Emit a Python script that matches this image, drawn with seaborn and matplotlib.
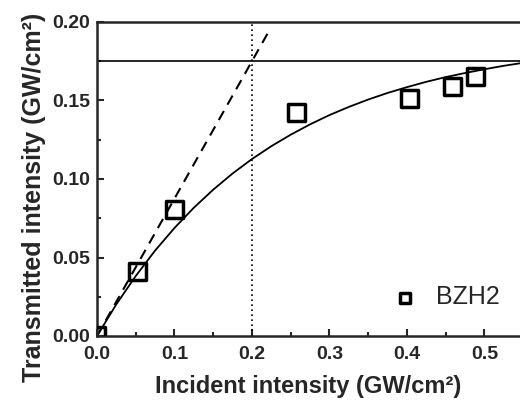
import numpy as np
import pandas as pd
import seaborn as sns
import matplotlib.pyplot as plt
from matplotlib.ticker import MultipleLocator, FormatStrFormatter

sns.set_theme(style="ticks")
plt.rcParams['font.family'] = ['Liberation Sans', 'DejaVu Sans']

# measured points (BZH2)
incident = [0.0, 0.052, 0.100, 0.257, 0.403, 0.459, 0.489]
transmitted = [0.0, 0.041, 0.0805, 0.1425, 0.1515, 0.159, 0.165]

# solid fit curve
curve_x = [0.0, 0.025, 0.05, 0.075, 0.1, 0.125, 0.15, 0.175, 0.2, 0.225, 0.25, 0.275,
           0.3, 0.325, 0.35, 0.375, 0.4, 0.425, 0.45, 0.475, 0.5, 0.525, 0.55]
curve_y = [0.0, 0.0202, 0.0382, 0.0544, 0.0688, 0.0817, 0.0932, 0.1035, 0.1127, 0.1209,
           0.1282, 0.1348, 0.1407, 0.1459, 0.1506, 0.1548, 0.1585, 0.1619, 0.1649,
           0.1675, 0.1699, 0.1721, 0.1740]

# linear (low intensity) line and limits
linear_x = [0.0, 0.22]
linear_y = [0.0, 0.1925]
sat_level = 0.175
threshold_x = 0.2

pts = pd.DataFrame({"Incident": incident, "Transmitted": transmitted})
fit = pd.DataFrame({"x": curve_x, "y": curve_y})
lin = pd.DataFrame({"x": linear_x, "y": linear_y})

fig = plt.figure(figsize=(5.2, 4.0), dpi=100)
ax = fig.add_axes([0.1865, 0.16, 0.8135, 0.785])

sns.lineplot(data=fit, x="x", y="y", color="black", lw=1.3, ax=ax)
sns.lineplot(data=lin, x="x", y="y", color="black", lw=1.5, ls=(0, (5, 3.5)), ax=ax)
ax.axhline(sat_level, color="black", lw=1.2)
ax.axvline(threshold_x, color="black", lw=1.2, ls=(0, (1, 2)))
sns.scatterplot(data=pts, x="Incident", y="Transmitted", marker="s", s=150,
                facecolor="none", edgecolor="black", linewidth=2.5,
                label="BZH2", ax=ax, zorder=5)

ax.set_xlim(0, 0.546)
ax.set_ylim(0, 0.20)
ax.xaxis.set_major_locator(MultipleLocator(0.1))
ax.xaxis.set_minor_locator(MultipleLocator(0.05))
ax.yaxis.set_major_locator(MultipleLocator(0.05))
ax.yaxis.set_minor_locator(MultipleLocator(0.025))
ax.xaxis.set_major_formatter(FormatStrFormatter("%.1f"))
ax.yaxis.set_major_formatter(FormatStrFormatter("%.2f"))
ax.tick_params(which="both", direction="in", width=1.5, labelsize=14)
ax.tick_params(axis="x", pad=7)
ax.tick_params(axis="y", pad=5)
ax.tick_params(which="major", length=5)
ax.tick_params(which="minor", length=3)
for lab in ax.get_xticklabels() + ax.get_yticklabels():
    lab.set_fontweight("bold")
for side in ["left", "bottom", "top"]:
    ax.spines[side].set_linewidth(1.8)
ax.spines["right"].set_visible(False)

ax.set_xlabel("Incident intensity (GW/cm²)", fontsize=17, fontweight="bold", labelpad=9)
ax.set_ylabel("Transmitted intensity (GW/cm²)", fontsize=18, fontweight="bold", labelpad=4)
ax.yaxis.label.set_y(0.443)

leg = ax.legend(frameon=False, loc="lower right", fontsize=18, markerscale=0.6,
                handlelength=1.0, handletextpad=0.74, borderpad=0, borderaxespad=0,
                bbox_to_anchor=(0.953, 0.085))

fig.savefig("out.png", dpi=100)
